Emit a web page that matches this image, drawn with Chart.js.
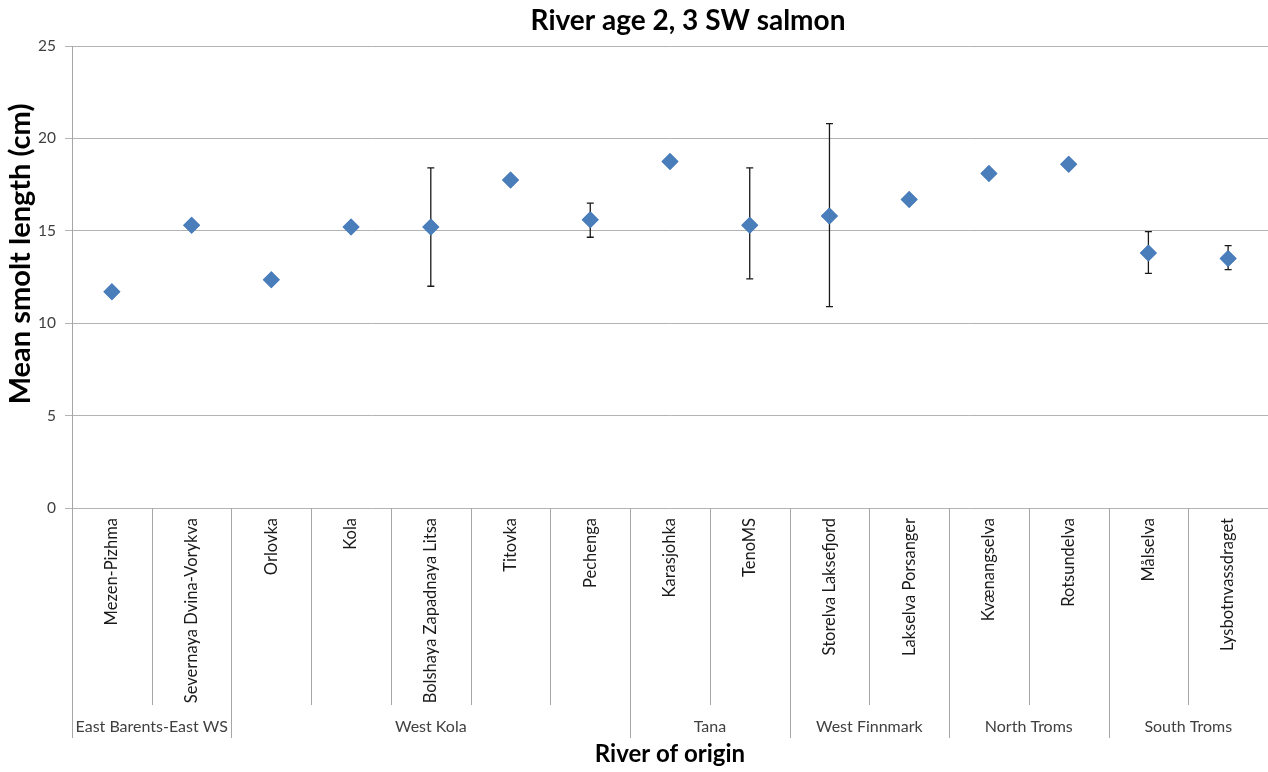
<!DOCTYPE html>
<html>
<head>
<meta charset="utf-8">
<script src="https://cdn.jsdelivr.net/npm/chart.js@4.4.1/dist/chart.umd.min.js"></script>
<style>
    html, body { margin: 0; padding: 0; background: #fff; }
    #wrap { width: 1268px; height: 772px; }
</style>
</head>
<body>
<div id="wrap"><canvas id="chart"></canvas></div>
<script>
// River names and the region group they belong to
const rivers = ['Mezen-Pizhma', 'Severnaya Dvina-Vorykva', 'Orlovka', 'Kola', 'Bolshaya Zapadnaya Litsa',
    'Titovka', 'Pechenga', 'Karasjohka', 'TenoMS', 'Storelva Laksefjord', 'Lakselva Porsanger',
    'Kvænangselva', 'Rotsundelva', 'Målselva', 'Lysbotnvassdraget'];
const groups = ['East Barents-East WS', 'West Kola', 'Tana', 'West Finnmark', 'North Troms', 'South Troms'];
const groupSizes = [2, 5, 2, 2, 2, 2];

// Mean smolt length (cm) and error bar ends (null = no bar)
const meanLength = [11.7, 15.3, 12.35, 15.2, 15.2, 17.75, 15.6, 18.75, 15.3, 15.8, 16.7, 18.1, 18.6, 13.8, 13.5];
const errLow = [null, null, null, null, 12.0, null, 14.65, null, 12.4, 10.9, null, null, null, 12.7, 12.9];
const errHigh = [null, null, null, null, 18.4, null, 16.5, null, 18.4, 20.8, null, null, null, 14.95, 14.2];

const yTicks = [0, 5, 10, 15, 20, 25];

const FONT = 'Lato, "Open Sans", sans-serif';

// Chart title and y axis title, placed like the original
const titlePlugin = {
    id: 'titlePlugin',
    afterDraw(chart) {
        const ctx = chart.ctx;
        ctx.save();
        ctx.fillStyle = '#000';
        ctx.font = 'bold 28px ' + FONT;
        ctx.textAlign = 'center';
        ctx.textBaseline = 'middle';
        ctx.fillText('River age 2, 3 SW salmon', 688, 21);
        // y axis title
        ctx.translate(21, 254);
        ctx.rotate(-Math.PI / 2);
        ctx.font = 'bold 29px ' + FONT;
        ctx.fillText('Mean smolt length (cm)', 0, 0);
        ctx.restore();
    }
};

// Error bars drawn from the y scale
const errorBars = {
    id: 'errorBars',
    afterDatasetsDraw(chart) {
        const ctx = chart.ctx;
        const x = chart.scales.x;
        const y = chart.scales.y;
        ctx.save();
        ctx.strokeStyle = '#1a1a1a';
        ctx.lineWidth = 1.3;
        errLow.forEach((lo, i) => {
            if (lo === null) return;
            const px = x.getPixelForValue(i);
            const top = y.getPixelForValue(errHigh[i]);
            const bot = y.getPixelForValue(lo);
            ctx.beginPath();
            ctx.moveTo(px, top); ctx.lineTo(px, bot);
            ctx.moveTo(px - 3.5, top); ctx.lineTo(px + 3.5, top);
            ctx.moveTo(px - 3.5, bot); ctx.lineTo(px + 3.5, bot);
            ctx.stroke();
        });
        ctx.restore();
        // redraw the points on top of the bars
        chart.getDatasetMeta(0).controller.draw();
    }
};

// Category separators and the group row under the axis
const groupAxis = {
    id: 'groupAxis',
    afterDraw(chart) {
        const ctx = chart.ctx;
        const x = chart.scales.x;
        const area = chart.chartArea;
        const half = (x.getPixelForValue(1) - x.getPixelForValue(0)) / 2;
        const lineEnd = area.bottom + 197;
        const groupEnd = area.bottom + 230;
        ctx.save();
        ctx.strokeStyle = '#a6a6a6';
        ctx.lineWidth = 1;
        // boundaries between each river
        const bounds = new Set([0]);
        let acc = 0;
        groupSizes.forEach(n => { acc += n; bounds.add(acc); });
        for (let i = 0; i <= rivers.length; i++) {
            const px = Math.round(x.getPixelForValue(i) - half) + 0.5;
            ctx.beginPath();
            ctx.moveTo(px, area.bottom);
            ctx.lineTo(px, bounds.has(i) ? groupEnd : lineEnd);
            ctx.stroke();
        }
        // group names
        ctx.fillStyle = '#404040';
        ctx.font = '16px ' + FONT;
        ctx.textAlign = 'center';
        ctx.textBaseline = 'middle';
        let start = 0;
        groups.forEach((g, gi) => {
            const end = start + groupSizes[gi] - 1;
            const cx = (x.getPixelForValue(start) + x.getPixelForValue(end)) / 2;
            ctx.fillText(g, cx, area.bottom + 219);
            start = end + 1;
        });
        ctx.restore();
    }
};

const ctx = document.getElementById('chart').getContext('2d');
new Chart(ctx, {
    type: 'line',
    data: {
        labels: rivers,
        datasets: [{
            label: 'Mean smolt length',
            data: meanLength,
            showLine: false,
            pointStyle: 'rectRot',
            pointRadius: 8.5,
            pointHoverRadius: 8.5,
            backgroundColor: '#4A7EBB',
            borderColor: '#4A7EBB',
            borderWidth: 0
        }]
    },
    options: {
        responsive: true,
        maintainAspectRatio: false,
        animation: false,
        layout: { autoPadding: false, padding: { left: 0, right: -2, top: 46, bottom: 0 } },
        plugins: {
            legend: { display: false },
            tooltip: { enabled: false },
            title: { display: false }
        },
        scales: {
            x: {
                offset: true,
                grid: { display: false },
                border: { display: false },
                ticks: {
                    color: '#1a1a1a',
                    font: { family: FONT, size: 16.5 },
                    minRotation: 90,
                    maxRotation: 90,
                    autoSkip: false,
                    padding: 2
                },
                title: {
                    display: true,
                    text: 'River of origin',
                    color: '#000',
                    font: { family: FONT, size: 24, weight: 'bold' },
                    padding: { top: 0, bottom: 3 }
                },
                afterFit(scale) { scale.height = 264; }
            },
            y: {
                min: 0,
                max: 25,
                afterBuildTicks(scale) { scale.ticks = yTicks.map(v => ({ value: v })); },
                grid: { color: '#b3b3b3', tickLength: 7 },
                border: { color: '#a6a6a6' },
                ticks: {
                    color: '#404040',
                    font: { family: FONT, size: 15.5 },
                    padding: 9
                },
                title: { display: false },
                afterFit(scale) { scale.width = 72; }
            }
        }
    },
    plugins: [errorBars, groupAxis, titlePlugin]
});
</script>
</body>
</html>
